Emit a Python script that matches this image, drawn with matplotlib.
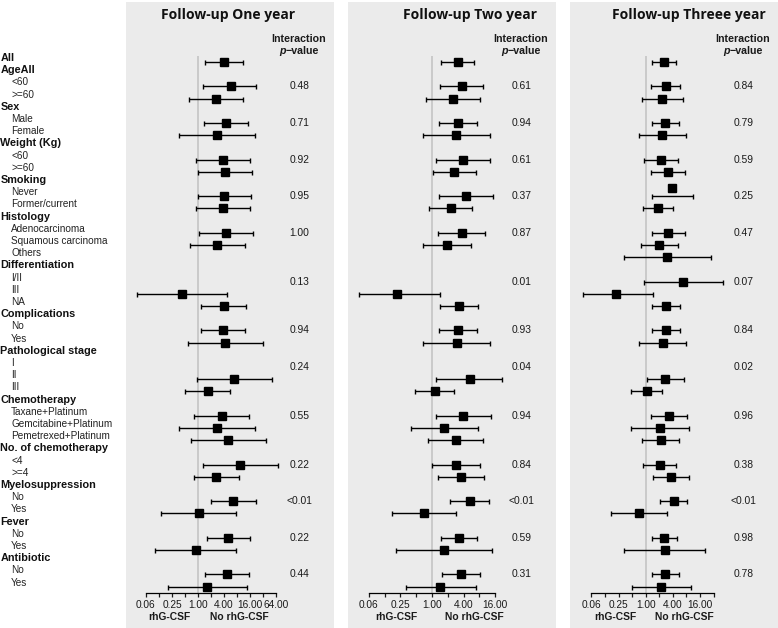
import numpy as np
import matplotlib
matplotlib.use("Agg")
import matplotlib.pyplot as plt
from matplotlib import transforms

nan = np.nan

# ---------------- data ----------------
row_labels = ["All", "AgeAll", "<60", ">=60", "Sex", "Male", "Female",
              "Weight (Kg)", "<60", ">=60", "Smoking", "Never", "Former/current",
              "Histology", "Adenocarcinoma", "Squamous carcinoma", "Others",
              "Differentiation", "I/II", "III", "NA", "Complications", "No", "Yes",
              "Pathological stage", "I", "II", "III", "Chemotherapy",
              "Taxane+Platinum", "Gemcitabine+Platinum", "Pemetrexed+Platinum",
              "No. of chemotherapy", "<4", ">=4", "Myelosuppression", "No", "Yes",
              "Fever", "No", "Yes", "Antibiotic", "No", "Yes"]
row_is_header = [1, 1, 0, 0, 1, 0, 0, 1, 0, 0, 1, 0, 0, 1, 0, 0, 0, 1, 0, 0, 0,
                 1, 0, 0, 1, 0, 0, 0, 1, 0, 0, 0, 1, 0, 0, 1, 0, 0, 1, 0, 0, 1, 0, 0]

panel_titles = ["Follow-up One year", "Follow-up Two year", "Follow-up Threee year"]

# estimates / lower / upper for the 31 rows that can carry a marker
est1 = [3.97, 5.70, 2.57, 4.50, 2.69, 3.78, 4.20, 4.06, 3.84, 4.44, 2.79, nan, nan,
        0.43, 3.92, 3.78, 4.29, nan, 6.92, 1.67, 3.53, 2.79, 5.03, 9.32, 2.66,
        6.54, 1.06, 5.03, 0.88, 4.76, 1.61]
lo1 = [1.42, 1.30, 0.61, 1.35, 0.36, 0.88, 1.02, 0.98, 0.90, 1.06, 0.66, nan, nan,
       0.040, 1.20, 1.20, 0.59, nan, 0.93, 0.51, 0.82, 0.37, 0.68, 1.28, 0.81,
       2.03, 0.14, 1.58, 0.10, 1.47, 0.20]
hi1 = [10.9, 22.3, 10.9, 14.3, 21.1, 15.6, 17.6, 17.0, 16.2, 18.6, 12.0, nan, nan,
       4.59, 12.6, 12.4, 31.8, nan, 51.3, 5.39, 15.0, 21.1, 36.5, 69.1, 8.69,
       21.4, 7.67, 16.2, 7.67, 15.0, 13.5]

est2 = [3.07, 3.73, 2.48, 3.07, 2.91, 3.84, 2.66, 4.38, 2.27, 3.68, 1.93, nan, nan,
        0.22, 3.27, 3.07, 2.95, nan, 5.21, 1.13, 3.94, 1.72, 2.83, 2.87, 3.58,
        5.21, 0.69, 3.23, 1.67, 3.63, 1.44]
lo2 = [1.46, 1.44, 0.76, 1.34, 0.68, 1.17, 1.03, 1.34, 0.89, 1.30, 0.67, nan, nan,
       0.040, 1.40, 1.34, 0.68, nan, 1.21, 0.48, 1.19, 0.39, 0.85, 0.99, 1.28,
       2.17, 0.17, 1.48, 0.21, 1.55, 0.32]
hi2 = [6.41, 9.38, 8.11, 7.21, 12.7, 12.6, 6.77, 14.3, 5.78, 10.2, 5.62, nan, nan,
       1.40, 7.52, 7.21, 12.7, nan, 21.9, 2.66, 13.3, 7.62, 9.38, 8.34, 9.78,
       12.4, 2.87, 7.11, 13.7, 8.34, 6.87]

est3 = [2.58, 2.83, 2.35, 2.73, 2.30, 2.22, 3.12, 3.89, 1.91, 3.12, 2.01, 3.03, 6.82,
        0.22, 2.77, 2.77, 2.38, nan, 2.68, 1.05, 3.29, 2.04, 2.14, 2.04, 3.71,
        4.17, 0.72, 2.58, 2.64, 2.73, 2.19]
lo3 = [1.40, 1.31, 0.84, 1.36, 0.70, 0.93, 1.34, 1.40, 0.89, 1.36, 0.79, 0.33, 0.90,
       0.040, 1.39, 1.39, 0.71, nan, 1.05, 0.48, 1.31, 0.47, 0.84, 0.89, 1.47,
       2.11, 0.17, 1.36, 0.33, 1.40, 0.49]
hi3 = [4.79, 5.86, 6.59, 5.58, 7.67, 5.28, 7.31, 11.0, 4.11, 7.31, 5.28, 27.7, 52.7,
       1.43, 5.66, 5.66, 7.94, nan, 6.96, 2.35, 8.40, 9.00, 5.58, 4.69, 9.25,
       8.40, 3.03, 4.96, 20.97, 5.39, 9.92]

p1 = ["0.48", "0.71", "0.92", "0.95", "1.00", "0.13", "0.94", "0.24", "0.55", "0.22", "<0.01", "0.22", "0.44"]
p2 = ["0.61", "0.94", "0.61", "0.37", "0.87", "0.01", "0.93", "0.04", "0.94", "0.84", "<0.01", "0.59", "0.31"]
p3 = ["0.84", "0.79", "0.59", "0.25", "0.47", "0.07", "0.84", "0.02", "0.96", "0.38", "<0.01", "0.98", "0.78"]

tick_values = [0.0625, 0.125, 0.25, 0.5, 1, 2, 4, 8, 16, 32, 64]
tick_text = ["0.06", "", "0.25", "", "1.00", "", "4.00", "", "16.00", "", "64.00"]
axis_max = [64, 16, 32]

# ---------------- layout ----------------
W, H = 778, 628
DPI = 100
fig = plt.figure(figsize=(W / DPI, H / DPI), dpi=DPI, facecolor="white")

SANS = ["Liberation Sans", "DejaVu Sans"]
TITLE = ["Open Sans", "DejaVu Sans"]
panel_left = [126, 348, 570]
panel_w = 208
one_px = [198.0, 432.0, 645.7]          # pixel of value 1.0
px_per_oct = [13.03, 15.8, 13.58]       # pixels per doubling
title_cx = [228.0, 470.0, 688.5]
side_lab = [(-2.2, 3.15), (-2.28, 2.66), (-2.2, 2.82)]

row0_px, row_sp = 62.0, 12.2
y_top = 1 + (2 - row0_px) / row_sp
y_bot = 1 + (H - row0_px) / row_sp
y_axis = 1 + (593.3 - row0_px) / row_sp
y_side = 1 + (616.5 - row0_px) / row_sp

data_rows = [i for i in range(len(row_labels)) if (not row_is_header[i]) or i == 0]
y_data = np.array([i + 1 for i in data_rows], dtype=float)
group_rows = [i for i in range(1, len(row_labels)) if row_is_header[i]]

panels = [(est1, lo1, hi1, p1), (est2, lo2, hi2, p2), (est3, lo3, hi3, p3)]

axes = []
for k, (est, lo, hi, pv) in enumerate(panels):
    ax = fig.add_axes([panel_left[k] / W, 0, panel_w / W, (H - 2) / H])
    ax.set_facecolor("#ebebeb")
    ax.set_xscale("log", base=2)
    xl = 2 ** ((panel_left[k] - one_px[k]) / px_per_oct[k])
    xr = 2 ** ((panel_left[k] + panel_w - one_px[k]) / px_per_oct[k])
    ax.set_xlim(xl, xr)
    ax.set_ylim(y_bot, y_top)
    for s in ["top", "left", "right"]:
        ax.spines[s].set_visible(False)
    ax.spines["bottom"].set_position(("data", y_axis))
    ax.spines["bottom"].set_bounds(tick_values[0], axis_max[k])
    ax.spines["bottom"].set_linewidth(0.9)
    tv = [t for t in tick_values if t <= axis_max[k]]
    tt = tick_text[:len(tv)]
    if axis_max[k] == 32:
        tt[-1] = ""
    ax.set_xticks(tv)
    ax.set_xticklabels(tt)
    ax.xaxis.set_minor_locator(matplotlib.ticker.NullLocator())
    ax.tick_params(axis="x", direction="out", length=3, width=0.9, pad=1.5,
                   labelsize=7.3, colors="#1a1a1a")
    for lab in ax.get_xticklabels():
        lab.set_family(SANS)
    ax.set_yticks([])

    # reference line
    ax.vlines(1, 0.51, y_axis, color="#c0c0c0", lw=1.1, zorder=1)

    est = np.array(est); lo = np.array(lo); hi = np.array(hi)
    ok = ~np.isnan(est)
    ax.errorbar(est[ok], y_data[ok], xerr=[est[ok] - lo[ok], hi[ok] - est[ok]],
                fmt="none", ecolor="black", elinewidth=1.0, capsize=1.8,
                capthick=1.0, zorder=2)
    ym = y_data.copy()
    if k == 2:
        ym[7] -= 0.65   # marker of "Never" drawn above its interval in the original
    ax.plot(est[ok], ym[ok], "s", color="black", ms=5.8, zorder=3)

    # p-values
    for g, txt in zip(group_rows, pv):
        ax.text(0.835, g + 2, txt, transform=transforms.blended_transform_factory(ax.transAxes, ax.transData),
                ha="center", va="center", fontsize=7.4, family=SANS, color="#1a1a1a")

    # headers
    fig.text(title_cx[k] / W, 1 - 14.5 / H, panel_titles[k], ha="center", va="center",
             fontsize=10, fontweight="bold", family=TITLE, color="#111111")
    hx = panel_left[k] + 0.83 * panel_w
    fig.text(hx / W, 1 - 38.5 / H, "Interaction", ha="center", va="center",
             fontsize=7.7, fontweight="bold", family=SANS, color="#1a1a1a")
    fig.text((hx - 13.0) / W, 1 - 51.5 / H, "p", ha="right", va="center",
             fontsize=7.7, fontweight="bold", style="italic", family=SANS, color="#1a1a1a")
    fig.text((hx - 13.0) / W, 1 - 51.5 / H, "\u2212value", ha="left", va="center",
             fontsize=7.7, fontweight="bold", family=SANS, color="#1a1a1a")

    # direction labels
    ax.text(2 ** side_lab[k][0], y_side, "rhG-CSF", ha="center", va="center",
            fontsize=7.4, fontweight="bold", family=SANS, color="#1a1a1a")
    ax.text(2 ** side_lab[k][1], y_side, "No rhG-CSF", ha="center", va="center",
            fontsize=7.4, fontweight="bold", family=SANS, color="#1a1a1a")
    axes.append(ax)

# row labels
tr = transforms.blended_transform_factory(fig.transFigure, axes[0].transData)
for i, (lab, hd) in enumerate(zip(row_labels, row_is_header)):
    y = i + 1 - 0.33
    if hd:
        fig.text(0.5 / W, y, lab, transform=tr, ha="left", va="center", fontsize=7.8,
                 fontweight="bold", family=SANS, color="#111111")
    else:
        fig.text(11 / W, y, lab, transform=tr, ha="left", va="center", fontsize=7.2,
                 family=SANS, color="#222222")

fig.savefig("out.png", dpi=DPI, facecolor="white")
